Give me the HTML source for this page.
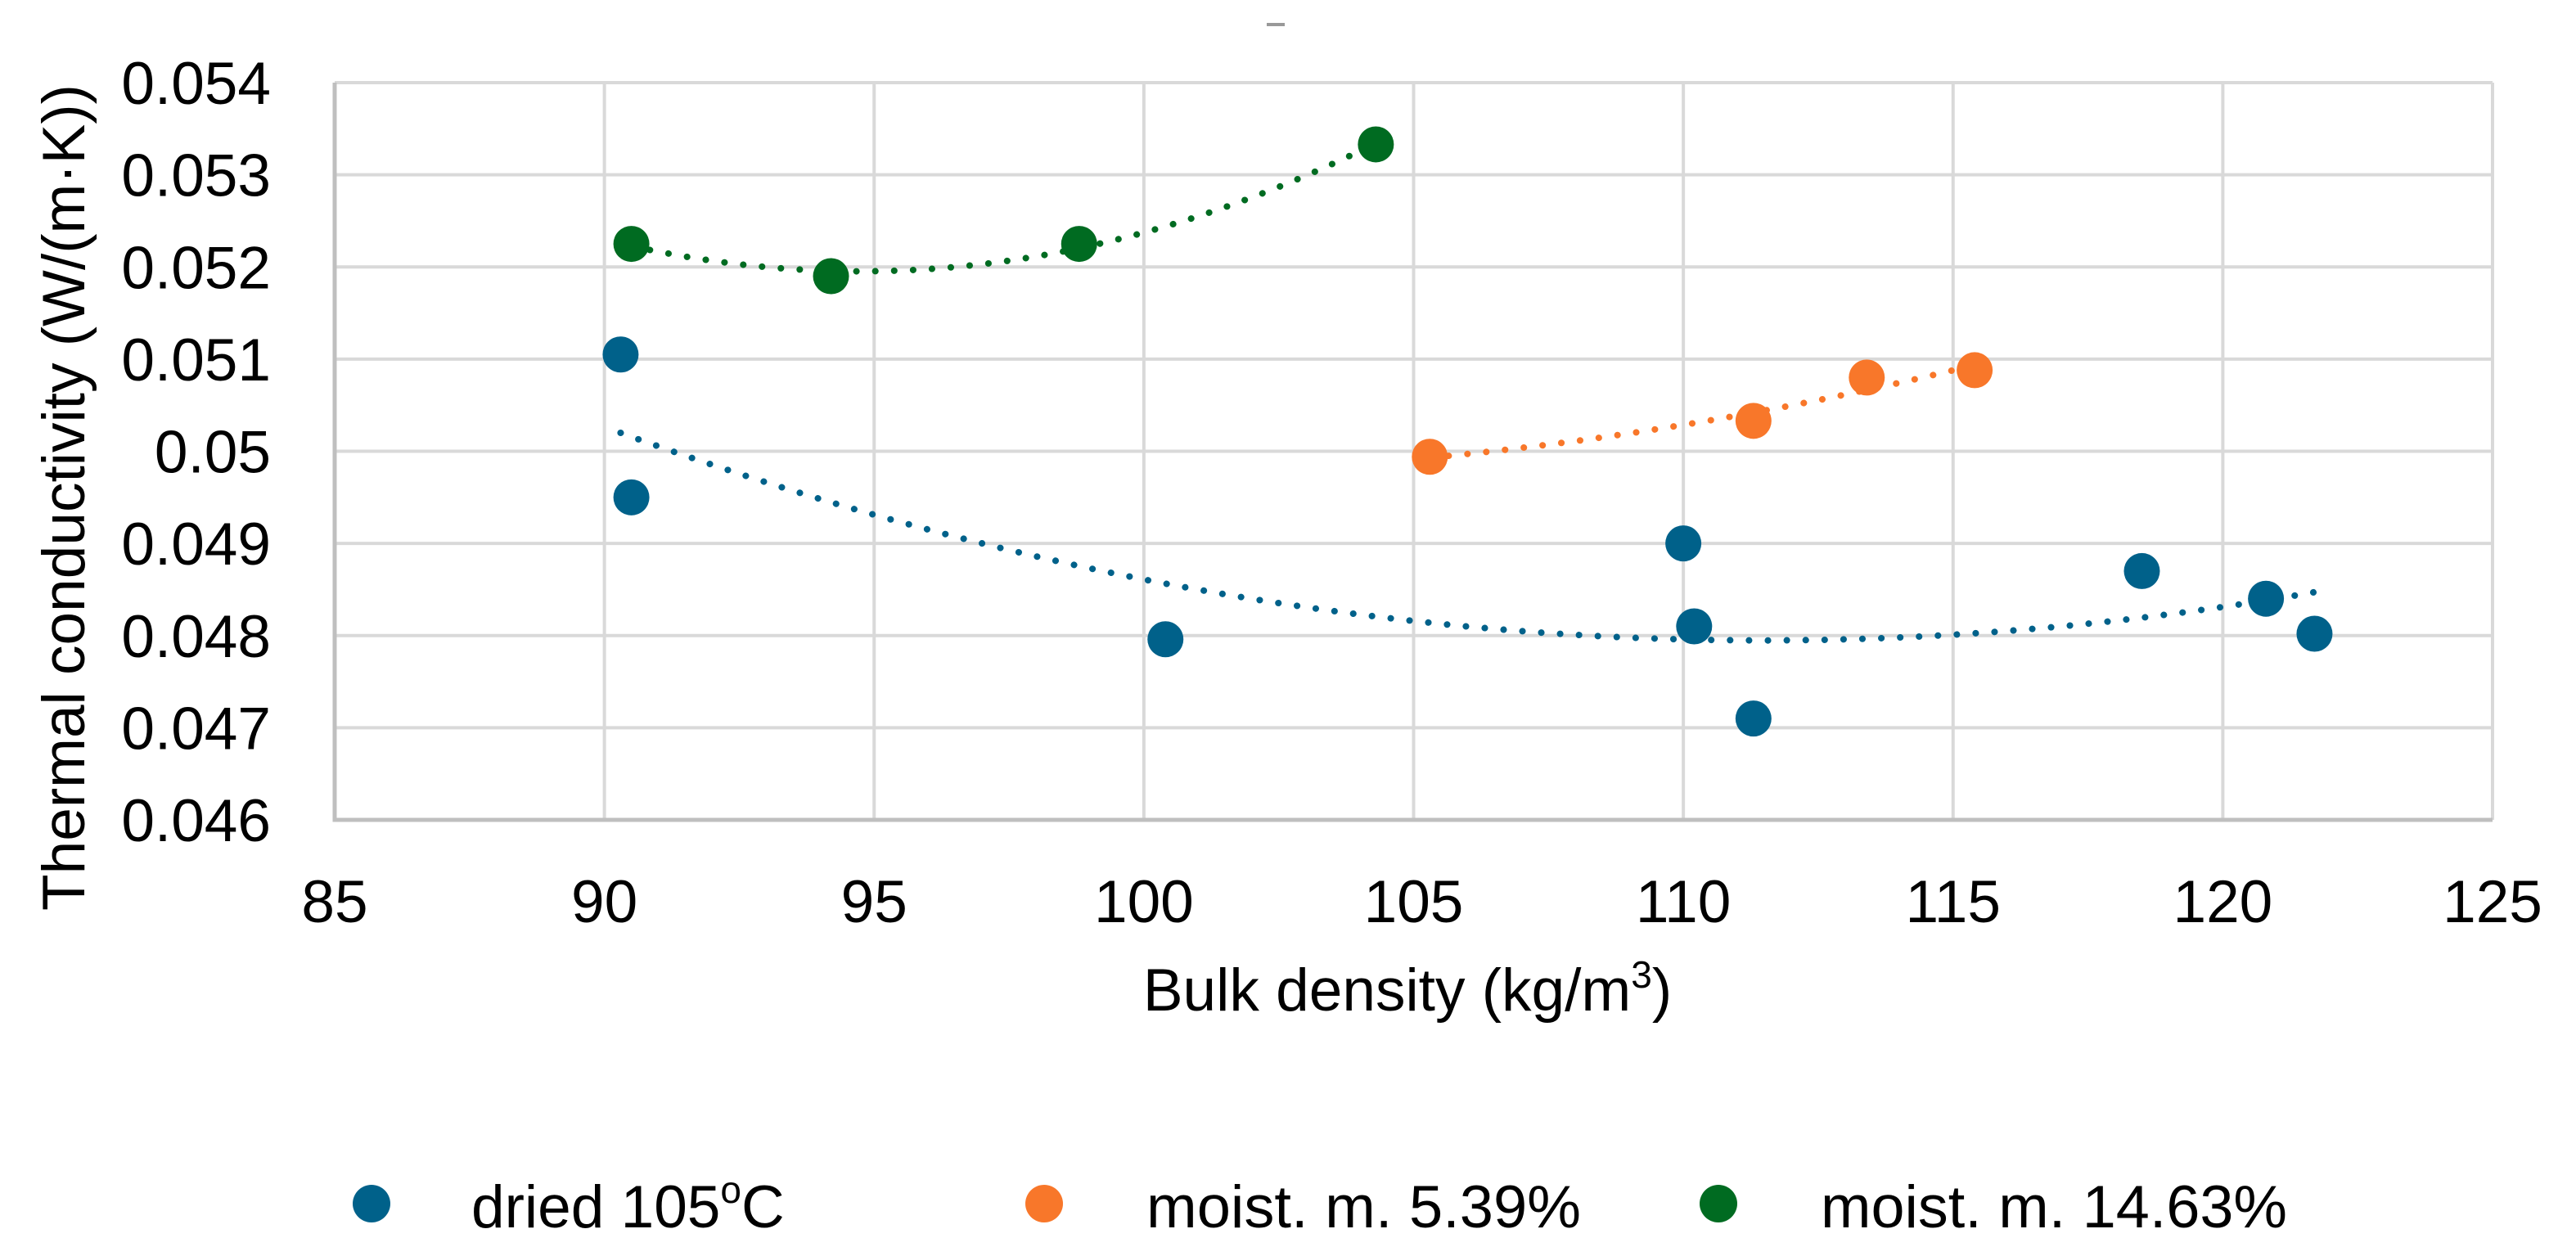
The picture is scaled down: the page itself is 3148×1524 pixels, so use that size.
<!DOCTYPE html>
<html><head><meta charset="utf-8"><style>
html,body{margin:0;padding:0;background:#fff}
svg{display:block}
text{font-family:"Liberation Sans",sans-serif;fill:#000}
</style></head><body>
<svg id="chart" width="3148" height="1524" viewBox="0 0 3148 1524" xmlns="http://www.w3.org/2000/svg">
<rect x="0" y="0" width="3148" height="1524" fill="#fff"/>
<rect x="1548" y="28" width="22" height="4" fill="#999"/>
<g id="grid"></g>
<g id="axes"></g>
<g id="trends"></g>
<g id="points"></g>
<text x="1720" y="1235" font-size="73" text-anchor="middle">Bulk density (kg/m<tspan font-size="46" dy="-28">3</tspan><tspan dy="28">)</tspan></text>
<text transform="translate(103,608) rotate(-90)" font-size="73" text-anchor="middle">Thermal conductivity (W/(m·K))</text>
<g>
<g>
<circle cx="454" cy="1471" r="23" fill="#00618A"/>
<text x="576" y="1500" font-size="73">dried 105<tspan font-size="46" dy="-30">o</tspan><tspan dy="30">C</tspan></text>
</g>
<g>
<circle cx="1276" cy="1471" r="23" fill="#F8772A"/>
<text x="1401" y="1500" font-size="73" textLength="531" lengthAdjust="spacingAndGlyphs">moist. m. 5.39%</text>
</g>
<g>
<circle cx="2100" cy="1471" r="23" fill="#006B21"/>
<text x="2225" y="1500" font-size="73" textLength="570" lengthAdjust="spacingAndGlyphs">moist. m. 14.63%</text>
</g>
</g>
</svg>
<script>
const xTicks=[85,90,95,100,105,110,115,120,125];
const yTicks=[0.046,0.047,0.048,0.049,0.05,0.051,0.052,0.053,0.054];
const yTickLabels=["0.046","0.047","0.048","0.049","0.05","0.051","0.052","0.053","0.054"];
const driedX=[90.3,90.5,100.4,110.0,110.2,111.3,118.5,120.8,121.7];
const driedY=[0.05105,0.04950,0.04796,0.04900,0.04810,0.04710,0.04870,0.04840,0.04802];
const moist5X=[105.3,111.3,113.4,115.4];
const moist5Y=[0.04994,0.05033,0.05080,0.05088];
const moist14X=[90.5,94.2,98.8,104.3];
const moist14Y=[0.05225,0.05190,0.05225,0.05333];

const NS="http://www.w3.org/2000/svg";
const X0=409,X1=3046,Y0=1002,Y1=101;
const xMin=85,xMax=125,yMin=0.046,yMax=0.054;
function xs(v){return X0+(v-xMin)/(xMax-xMin)*(X1-X0);}
function ys(v){return Y0-(v-yMin)/(yMax-yMin)*(Y0-Y1);}
function mk(tag,attrs,parent){const e=document.createElementNS(NS,tag);for(const k in attrs)e.setAttribute(k,attrs[k]);parent.appendChild(e);return e;}
const grid=document.getElementById('grid'),axes=document.getElementById('axes');
xTicks.forEach((t,i)=>{
  if(i>0){const l=mk('line',{x1:xs(t),x2:xs(t),y1:Y1,y2:Y0,stroke:'#d9d9d9','stroke-width':4},grid);
  
  }
  const tx=mk('text',{x:xs(t),y:1127,'font-size':73,'text-anchor':'middle'},axes);
  tx.textContent=t;
  
  
});
yTicks.forEach((t,i)=>{
  if(i>0){const l=mk('line',{x1:X0,x2:X1,y1:ys(t),y2:ys(t),stroke:'#d9d9d9','stroke-width':4},grid);
  
  }
  const tx=mk('text',{x:331,y:ys(t)+26,'font-size':73,'text-anchor':'end'},axes);
  tx.textContent=yTickLabels[i];
  
  
});
const ax=mk('path',{d:`M${X0} ${Y1} L${X0} ${Y0} L${X1} ${Y0}`,fill:'none',stroke:'#bfbfbf','stroke-width':5},axes);



function quadFit(X,Y){
  let n=X.length,s=[0,0,0,0,0],t=[0,0,0];
  for(let i=0;i<n;i++){let p=1;for(let k=0;k<5;k++){s[k]+=p;if(k<3)t[k]+=p*Y[i];p*=X[i];}}
  const A=[[s[0],s[1],s[2],t[0]],[s[1],s[2],s[3],t[1]],[s[2],s[3],s[4],t[2]]];
  for(let c=0;c<3;c++){for(let r=c+1;r<3;r++){const f=A[r][c]/A[c][c];for(let k=c;k<4;k++)A[r][k]-=f*A[c][k];}}
  const b=[0,0,0];for(let r=2;r>=0;r--){let v=A[r][3];for(let k=r+1;k<3;k++)v-=A[r][k]*b[k];b[r]=v/A[r][r];}
  return x=>b[0]+b[1]*x+b[2]*x*x;
}
const trends=document.getElementById('trends'),pts=document.getElementById('points');
const series=[
  {name:'dried',X:driedX,Y:driedY,c:'#00618A'},
  {name:'moist-5',X:moist5X,Y:moist5Y,c:'#F8772A'},
  {name:'moist-14',X:moist14X,Y:moist14Y,c:'#006B21'}];
series.forEach(s=>{
  const f=quadFit(s.X.map(v=>v-100),s.Y);
  const lo=Math.min(...s.X),hi=Math.max(...s.X);
  let d='';for(let i=0;i<=100;i++){const x=lo+(hi-lo)*i/100;d+=(i?'L':'M')+xs(x).toFixed(1)+' '+ys(f(x-100)).toFixed(1);}
  const p=mk('path',{d:d,fill:'none',stroke:s.c,'stroke-width':8,'stroke-dasharray':'0.1 23','stroke-linecap':'round'},trends);
  
  
  s.X.forEach((x,i)=>{
    const c=mk('circle',{cx:xs(x),cy:ys(s.Y[i]),r:22,fill:s.c},pts);
    
    
  });
});
</script>
</body></html>
